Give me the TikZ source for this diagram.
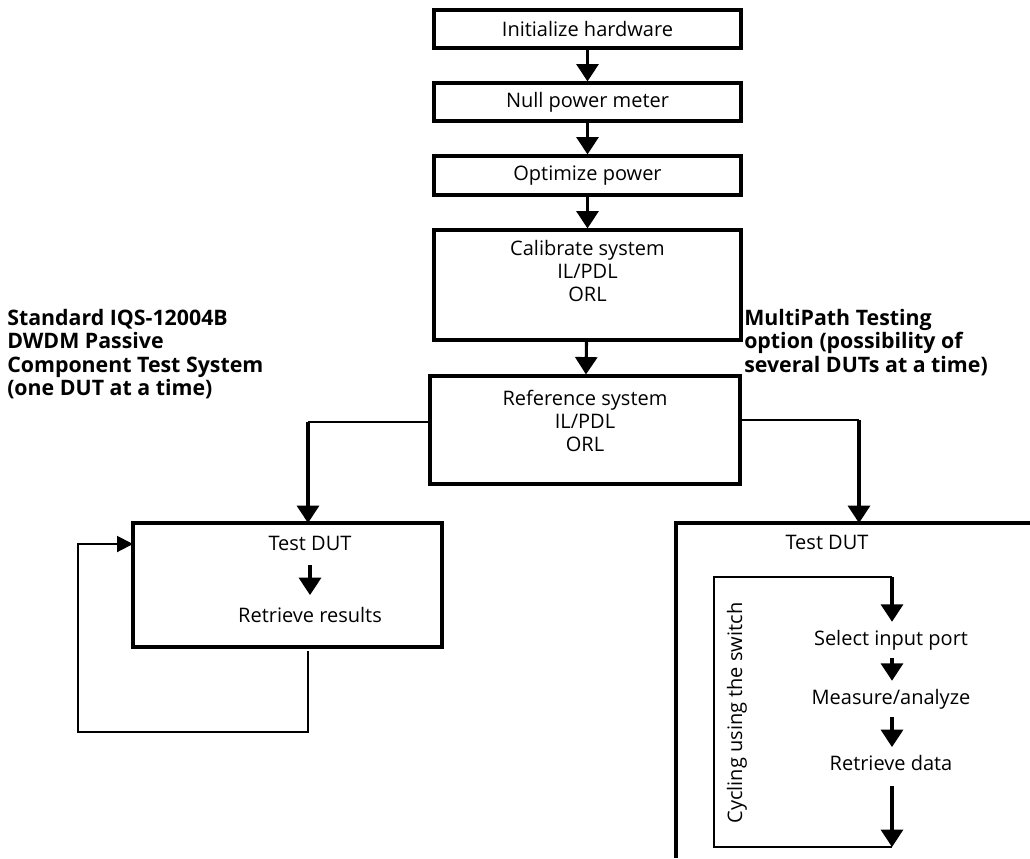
\documentclass[tikz,border=0pt]{standalone}
\usepackage{fontspec}
\setmainfont{Open Sans}
\usetikzlibrary{arrows.meta, positioning}

\begin{document}
\begin{tikzpicture}[x=0.75pt, y=-0.75pt, >={Triangle[width=16.5pt,length=13pt]},
    box/.style={draw, line width=2.4pt, minimum width=230.25pt, inner sep=0pt},
    txt/.style={font=\fontsize{15}{17.5}\selectfont, align=center, inner sep=0pt},
    steptxt/.style={txt, inner ysep=6pt},
    head/.style={font=\fontsize{16}{17.6}\selectfont\bfseries, align=left, inner sep=0pt, anchor=north west},
    flow/.style={->, line width=2.3pt},
    thin flow/.style={->, line width=1.5pt, >={Triangle[width=12pt,length=12pt]}}]
    \useasboundingbox (0,0) rectangle (1030,858);

    % main chain
    \node[box, minimum height=28.5pt] (init) at (587.5,29) {};
    \node[txt] (initT) at (init) {Initialize hardware};
    \node[box, minimum height=28.5pt] (nullpm) at (587.5,102) {};
    \node[txt] (nullT) at (nullpm) {Null power meter};
    \node[box, minimum height=29.25pt] (optim) at (587.5,175.5) {};
    \node[txt] (optimT) at (optim) {Optimize power};
    \node[box, minimum height=82.5pt] (calib) at (587.5,285) {};
    \node[txt] (calibT) at (587.5,271) {Calibrate system\\IL/PDL\\ORL};
    \node[box, minimum width=232.5pt, minimum height=81pt] (refsys) at (585,430) {};
    \node[txt] (refT) at (585,421) {Reference system\\IL/PDL\\ORL};

    \draw[flow] (init) -- (nullpm);
    \draw[flow] (nullpm) -- (optim);
    \draw[flow] (optim) -- (calib);
    \draw[flow] (calib) -- (refsys);

    % headings
    \node[head] (stdH) at (7,309) {Standard IQS-12004B\\DWDM Passive\\Component Test System\\(one DUT at a time)};
    \node[head] (mpH) at (744,309) {MultiPath Testing\\option (possibility of\\several DUTs at a time)};

    % standard branch
    \node[box, minimum width=231.75pt, minimum height=93pt] (dutL) at (287.5,585) {};
    \node[steptxt] (dutLT) at (310,543) {Test DUT};
    \node[steptxt] (resL) at (310,615) {Retrieve results};
    \draw[flow, shorten <=5pt, shorten >=3pt] (dutLT) -- (resL);
    \coordinate (brL) at (308,422);
    \coordinate (brLin) at (308,523);
    \draw[line width=2pt] (refsys.west |- brL) -- (brL);
    \draw[flow] (brL) -- (brLin);
    \coordinate (loopA) at (308,651);
    \coordinate (loopB) at (78,732);
    \coordinate (loopC) at (133,544);
    \draw[thin flow] (loopA) |- (loopB) |- (loopC);

    % multipath branch
    \coordinate (brR) at (859,420);
    \coordinate (dutRtop) at (859,523);
    \draw[line width=2pt] (refsys.east |- brR) -- (brR);
    \draw[flow] (brR) -- (dutRtop);
    \draw[line width=2.4pt] (676,858) -- (676,523) -- (1030,523);
    \node[txt] (dutRT) at (827,542) {Test DUT};

    % switch cycle
    \node[steptxt] (sel) at (891,640) {Select input port};
    \node[steptxt] (meas) at (891,699) {Measure/analyze};
    \node[steptxt] (ret) at (891,763) {Retrieve data};
    \node[txt, rotate=90] (cyc) at (737,713) {Cycling using the switch};
    \coordinate (cycTR) at (892,577);
    \coordinate (cycBL) at (714,847);
    \coordinate (cycBR) at (892,847);
    \draw[line width=2.2pt] (cycTR) -| (cycBL) -- (cycBR);
    \draw[flow] (cycTR) -- (sel.north -| cycTR);
    \draw[flow] (sel.south -| cycTR) -- (meas.north -| cycTR);
    \draw[flow] (meas.south -| cycTR) -- (ret.north -| cycTR);
    \draw[flow] ([yshift=-5pt]ret.south -| cycTR) -- (cycBR);
\end{tikzpicture}
\end{document}
